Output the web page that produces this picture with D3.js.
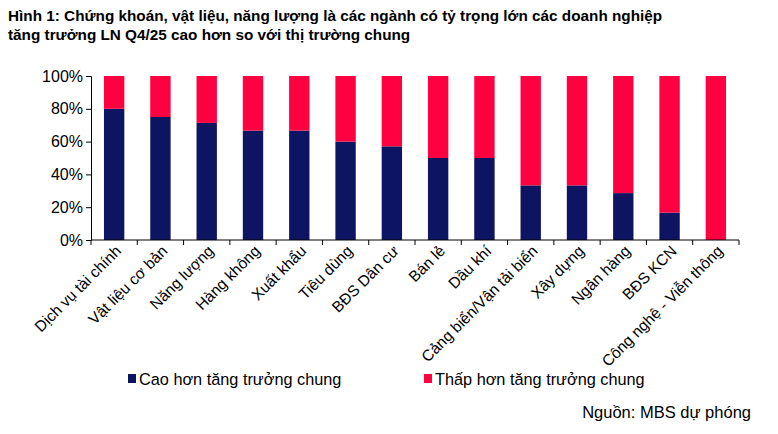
<!DOCTYPE html><html><head><meta charset="utf-8"><script src="https://cdn.jsdelivr.net/npm/d3@7"></script>
<style>body{margin:0;background:#fff}text{font-family:"Liberation Sans",Arial,sans-serif}</style></head><body><svg id="c" width="778" height="434"></svg><script>
const categories=["Dịch vụ tài chính","Vật liệu cơ bản","Năng lượng","Hàng không","Xuất khẩu","Tiêu dùng","BĐS Dân cư","Bán lẻ","Dầu khí","Cảng biển/Vận tải biển","Xây dựng","Ngân hàng","BĐS KCN","Công nghệ - Viễn thông"];
const higher=[80,75,71.4,66.7,66.7,60,57.1,50,50,33.3,33.3,28.6,16.7,0];
const yTicks=[0,20,40,60,80,100];
const seriesNames=["Cao hơn tăng trưởng chung","Thấp hơn tăng trưởng chung"];
const colors=["#0d1461","#ff0040"];
const svg=d3.select("#c");
svg.append("text").attr("x",8).attr("y",21).attr("font-weight","bold").attr("font-size",15.3).text("Hình 1: Chứng khoán, vật liệu, năng lượng là các ngành có tỷ trọng lớn các doanh nghiệp");
svg.append("text").attr("x",8).attr("y",40).attr("font-weight","bold").attr("font-size",15.3).text("tăng trưởng LN Q4/25 cao hơn so với thị trường chung");
const x=d3.scaleBand().domain(categories).range([91,739]).paddingInner(0.56).paddingOuter(0.28);
const xb=d3.scaleBand().domain(categories).range([91,739]);
const y=d3.scaleLinear().domain([0,100]).range([240,76]);
const g=svg.append("g");
categories.forEach((c,i)=>{
 g.append("rect").attr("x",x(c)).attr("width",x.bandwidth()).attr("y",y(higher[i])).attr("height",y(0)-y(higher[i])).attr("fill",colors[0]);
 g.append("rect").attr("x",x(c)).attr("width",x.bandwidth()).attr("y",y(100)).attr("height",y(higher[i])-y(100)).attr("fill",colors[1]);
});
const ya=svg.append("g").attr("transform","translate(91,0)").call(d3.axisLeft(y).tickValues(yTicks).tickFormat(d=>d+"%").tickSize(5));
ya.selectAll("text").attr("font-size",16).attr("fill","#000").attr("font-family","Liberation Sans,Arial");
ya.selectAll("line,path").attr("stroke","#000");
const xa=svg.append("g").attr("transform","translate(0,240)");
xa.append("line").attr("x1",91).attr("x2",739).attr("stroke","#000");
categories.forEach(c=>xa.append("line").attr("x1",xb(c)).attr("x2",xb(c)).attr("y2",5).attr("stroke","#000"));
xa.append("line").attr("x1",739).attr("x2",739).attr("y2",5).attr("stroke","#000");
categories.forEach(c=>{
 const cx=xb(c)+xb.bandwidth()/2+8;
 xa.append("text").attr("transform",`translate(${cx},12) rotate(-45)`).attr("text-anchor","end").attr("font-size",15.5).text(c);
});
const leg=[[128,383],[424,383]];
seriesNames.forEach((n,i)=>{
 svg.append("rect").attr("x",leg[i][0]).attr("y",leg[i][1]-9).attr("width",8).attr("height",9).attr("fill",colors[i]);
 svg.append("text").attr("x",leg[i][0]+11).attr("y",leg[i][1]+2).attr("font-size",16.3).text(n);
});
svg.append("text").attr("x",751).attr("y",418).attr("text-anchor","end").attr("font-size",16.5).text("Nguồn: MBS dự phóng");
</script></body></html>
